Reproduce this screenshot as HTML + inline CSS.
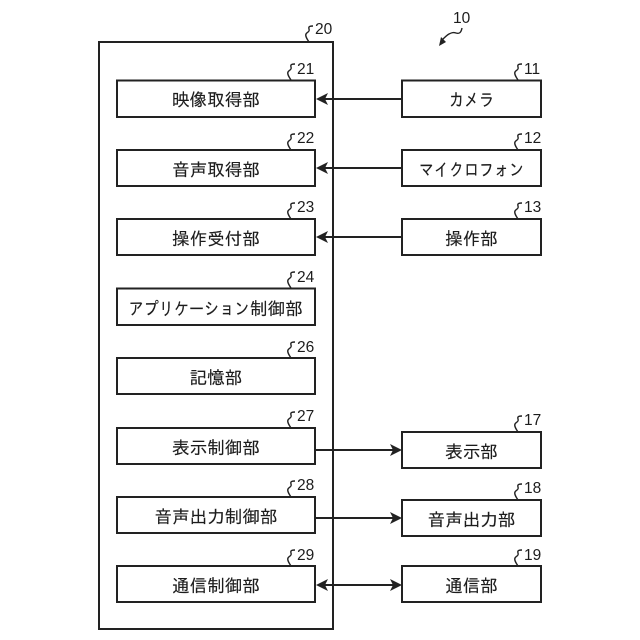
<!DOCTYPE html>
<html><head><meta charset="utf-8"><style>
html,body{margin:0;padding:0;background:#fff}
svg{display:block}
text{font-family:"IPAGothic","Noto Sans CJK JP",sans-serif;fill:#1c1c1c}
.l text{font-size:17.6px;text-anchor:middle;stroke:#1c1c1c;stroke-width:.15}
.l text.s{text-anchor:start}
.n text{font-family:"Liberation Sans",sans-serif;font-size:15.5px}
rect{fill:#fff;stroke:#222;stroke-width:2}
.w,.c{fill:none;stroke:#222}
.w{stroke-width:1.4}
.c{stroke-width:2}
.a{fill:#222;stroke:none}
</style></head><body>
<svg width="640" height="640" viewBox="0 0 640 640" xmlns="http://www.w3.org/2000/svg">
<rect x="99" y="42" width="234" height="587"/>
<rect x="117" y="80.500" width="198" height="36.500"/>
<rect x="117" y="150" width="198" height="36"/>
<rect x="117" y="219" width="198" height="36"/>
<rect x="117" y="288.500" width="198" height="36.500"/>
<rect x="117" y="358" width="198" height="36"/>
<rect x="117" y="428" width="198" height="36"/>
<rect x="117" y="497" width="198" height="36"/>
<rect x="117" y="566" width="198" height="36"/>
<rect x="402" y="80.500" width="139" height="36.500"/>
<rect x="402" y="150" width="139" height="36"/>
<rect x="402" y="219" width="139" height="36"/>
<rect x="402" y="432" width="139" height="36"/>
<rect x="402" y="500" width="139" height="36"/>
<rect x="402" y="566" width="139" height="36"/>

<path class="c" d="M402 99H322M402 168H322M402 237H322M315 450H396M315 518H396M322 585H396"/>
<path class="a" d="M316 99l12-6-3 6 3 6zM316 168l12-6-3 6 3 6zM316 237l12-6-3 6 3 6zM316 585l12-6-3 6 3 6zM402 450l-12-6 3 6-3 6zM402 518l-12-6 3 6-3 6zM402 585l-12-6 3 6-3 6z"/>

<g class="w">
<path d="M309 42c-2-3-4-6-3-8s4-2 3-5 2-3 4-3"/>
<path d="M291 80c-2-3-4-6-3-8s4-2 3-5 2-3 4-3"/>
<path d="M291 150c-2-3-4-6-3-8s4-2 3-5 2-3 4-3"/>
<path d="M291 219c-2-3-4-6-3-8s4-2 3-5 2-3 4-3"/>
<path d="M291 288c-2-3-4-6-3-8s4-2 3-5 2-3 4-3"/>
<path d="M291 358c-2-3-4-6-3-8s4-2 3-5 2-3 4-3"/>
<path d="M291 428c-2-3-4-6-3-8s4-2 3-5 2-3 4-3"/>
<path d="M291 497c-2-3-4-6-3-8s4-2 3-5 2-3 4-3"/>
<path d="M291 566c-2-3-4-6-3-8s4-2 3-5 2-3 4-3"/>
<path d="M518 80c-2-3-4-6-3-8s4-2 3-5 2-3 4-3"/>
<path d="M518 150c-2-3-4-6-3-8s4-2 3-5 2-3 4-3"/>
<path d="M518 219c-2-3-4-6-3-8s4-2 3-5 2-3 4-3"/>
<path d="M518 432c-2-3-4-6-3-8s4-2 3-5 2-3 4-3"/>
<path d="M518 500c-2-3-4-6-3-8s4-2 3-5 2-3 4-3"/>
<path d="M518 566c-2-3-4-6-3-8s4-2 3-5 2-3 4-3"/>
<path d="M462 28c-1 5-3 6-6 5s-5 0-7 1-5 4-7 6"/>
</g>
<path class="a" d="M439 46l2-9 5 5z"/>

<g class="l">
<text x="216" y="106">映像取得部</text>
<text x="216" y="176">音声取得部</text>
<text x="216" y="245">操作受付部</text>
<text class="s" x="128.500" y="315" textLength="121" lengthAdjust="spacingAndGlyphs">アプリケーション</text>
<text class="s" x="250" y="315">制御部</text>
<text x="216" y="384">記憶部</text>
<text x="216" y="454">表示制御部</text>
<text x="216" y="523">音声出力制御部</text>
<text x="216" y="592">通信制御部</text>
<text class="s" x="449" y="106" textLength="45" lengthAdjust="spacingAndGlyphs">カメラ</text>
<text class="s" x="419" y="176" textLength="105" lengthAdjust="spacingAndGlyphs">マイクロフォン</text>
<text x="471.500" y="245">操作部</text>
<text x="471.500" y="458">表示部</text>
<text x="471.500" y="526">音声出力部</text>
<text x="471.500" y="592">通信部</text>
</g>
<g class="n">
<text x="315" y="34">20</text>
<text x="453" y="23">10</text>
<text x="297" y="74">21</text>
<text x="297" y="143">22</text>
<text x="297" y="212">23</text>
<text x="297" y="282">24</text>
<text x="297" y="352">26</text>
<text x="297" y="421">27</text>
<text x="297" y="490">28</text>
<text x="297" y="560">29</text>
<text x="524" y="74">11</text>
<text x="524" y="143">12</text>
<text x="524" y="212">13</text>
<text x="524" y="425">17</text>
<text x="524" y="493">18</text>
<text x="524" y="560">19</text>
</g>
</svg>
</body></html>
